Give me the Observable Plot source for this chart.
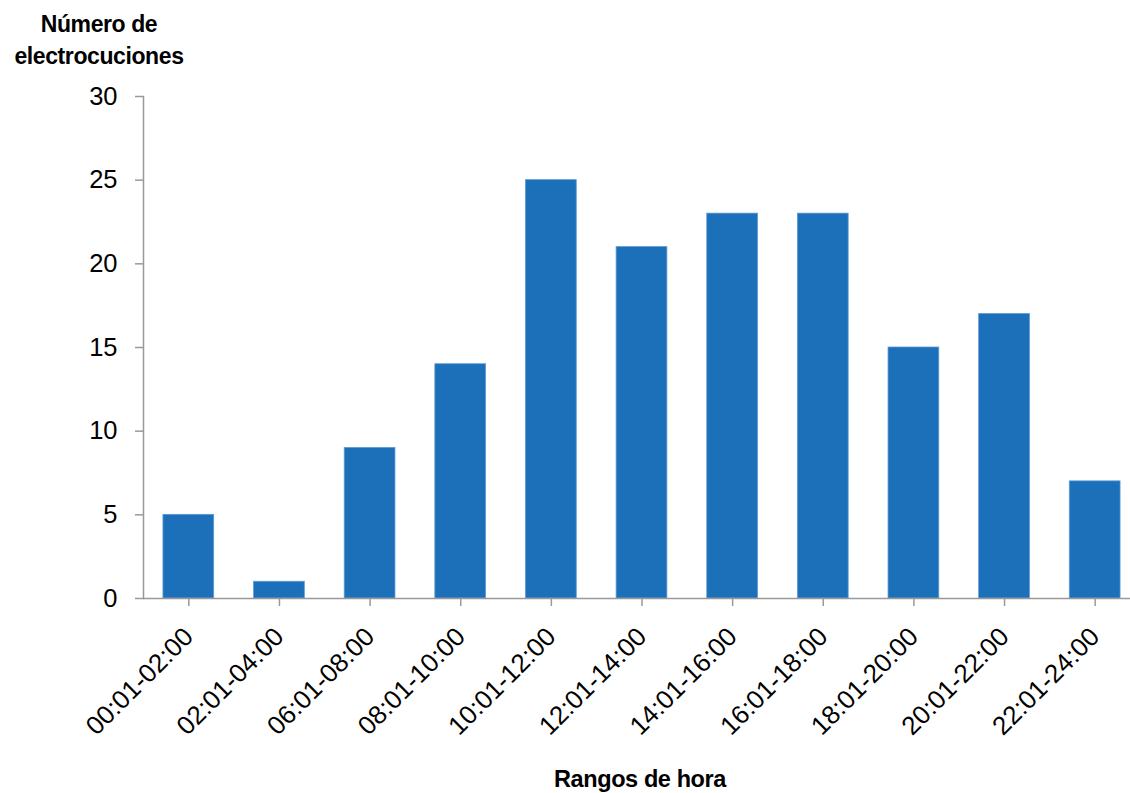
<!DOCTYPE html>
<html>
<head>
<meta charset="utf-8">
<script src="https://cdn.jsdelivr.net/npm/d3@7"></script>
<script src="https://cdn.jsdelivr.net/npm/@observablehq/plot@0.6"></script>
<style>
  html, body { margin: 0; padding: 0; background: #fff; }
  #wrap { position: relative; width: 1130px; height: 793px; font-family: "Liberation Sans", Arial, sans-serif; }
  .ylab { position: absolute; left: 0; top: 8px; width: 198px; text-align: center; font-weight: bold; font-size: 23px; line-height: 32px; letter-spacing: -0.4px; color: #000; }
  .xlab { position: absolute; left: 440px; top: 766px; width: 400px; text-align: center; font-weight: bold; font-size: 23.5px; letter-spacing: -0.4px; color: #000; }
  #chart { position: absolute; left: 0; top: 0; }
</style>
</head>
<body>
<div id="wrap">
  <div id="chart"></div>
  <div class="ylab">Número de<br>electrocuciones</div>
  <div class="xlab">Rangos de hora</div>
</div>
<script>
const categories = ["00:01-02:00", "02:01-04:00", "06:01-08:00", "08:01-10:00", "10:01-12:00", "12:01-14:00", "14:01-16:00", "16:01-18:00", "18:01-20:00", "20:01-22:00", "22:01-24:00"];
const values = [5, 1, 9, 14, 25, 21, 23, 23, 15, 17, 7];
const yTicks = [0, 5, 10, 15, 20, 25, 30];

const data = categories.map((c, i) => ({ range: c, n: values[i] }));

const chart = Plot.plot({
  width: 1130,
  height: 793,
  marginLeft: 143,
  marginRight: 0,
  marginTop: 96,
  marginBottom: 195,
  style: { fontFamily: "'Liberation Sans', Arial, sans-serif", fontSize: "25px", color: "#000", background: "transparent" },
  x: { domain: categories, range: [143, 1140], paddingInner: 0.44, paddingOuter: 0.22, align: 0.5, round: false, label: null },
  y: { domain: [0, 30], label: null },
  marks: [
    Plot.barY(data, { x: "range", y: "n", fill: "#1b70b9", stroke: "#5d9bd3", strokeWidth: 0.8 }),
    Plot.frame({ anchor: "left", stroke: "#999", strokeWidth: 1.5 }),
    Plot.axisY({ ticks: yTicks, tickSize: 8, tickPadding: 18, stroke: "#999", strokeOpacity: 1, strokeWidth: 1.5, fontSize: 25.5, label: null }),
    Plot.axisX({ tickSize: 8, tickRotate: -45, tickPadding: 26, stroke: "#999", strokeOpacity: 1, strokeWidth: 1.5, fontSize: 26, label: null }),
    Plot.ruleY([0], { stroke: "#999", strokeWidth: 1.5 })
  ]
});
document.getElementById("chart").appendChild(chart);
</script>
</body>
</html>
